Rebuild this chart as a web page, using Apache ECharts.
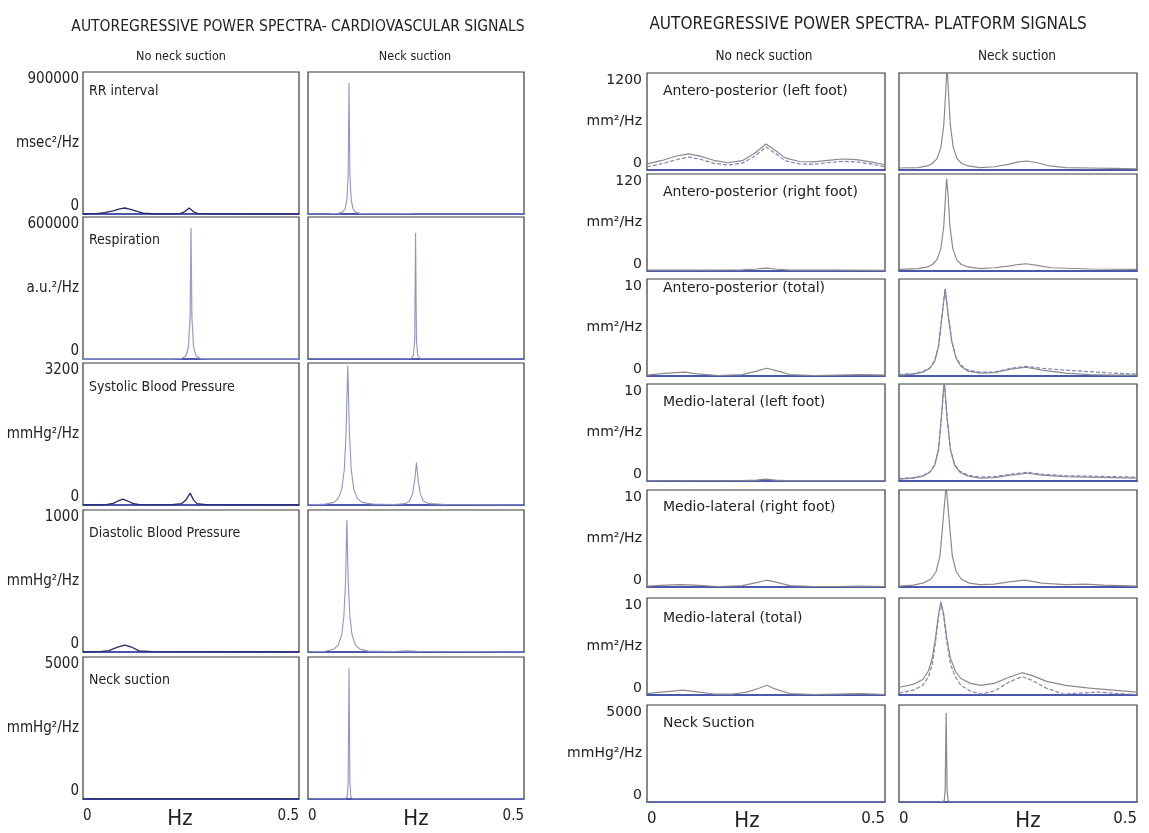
<!DOCTYPE html>
<html>
<head>
<meta charset="utf-8">
<title>Autoregressive power spectra</title>
<script src="https://cdn.jsdelivr.net/npm/echarts@6.0.0/dist/echarts.min.js"></script>
<style>
  html, body { margin: 0; padding: 0; background: #fff; }
  #chart { width: 1149px; height: 833px; }
</style>
</head>
<body>
<div id="chart"></div>
<script>
// ---- data: [Hz, power] ----
var hzTicks = [0, 0.5];

// cardiovascular signals (left figure)
var rrNoSuction = [[0,0],[0.03,2000],[0.05,8000],[0.07,20000],[0.085,32000],[0.097,38000],[0.11,30000],[0.125,16000],[0.14,6000],[0.16,1500],[0.2,500],[0.225,3000],[0.235,14000],[0.246,38000],[0.256,14000],[0.266,3000],[0.3,500],[0.4,0],[0.5,0]];
var rrSuction = [[0,0],[0.05,1000],[0.07,4000],[0.08,12000],[0.086,35000],[0.09,90000],[0.093,250000],[0.095,830000],[0.097,250000],[0.1,90000],[0.104,35000],[0.11,12000],[0.12,4000],[0.14,1000],[0.2,800],[0.22,3000],[0.24,800],[0.5,0]];
var respNoSuction = [[0,0],[0.2,0],[0.228,2000],[0.238,12000],[0.244,50000],[0.248,180000],[0.25,554000],[0.252,180000],[0.256,50000],[0.262,12000],[0.272,2000],[0.3,0],[0.5,0]];
var respSuction = [[0,0],[0.22,0],[0.238,2000],[0.244,15000],[0.247,80000],[0.249,533000],[0.251,80000],[0.254,15000],[0.26,2000],[0.28,0],[0.5,0]];
var sbpNoSuction = [[0,0],[0.05,5],[0.07,35],[0.082,95],[0.092,133],[0.102,95],[0.115,35],[0.13,8],[0.2,5],[0.228,30],[0.238,110],[0.248,267],[0.256,110],[0.264,30],[0.29,5],[0.5,0]];
var sbpSuction = [[0,0],[0.04,20],[0.06,60],[0.07,150],[0.078,350],[0.084,800],[0.088,1600],[0.092,3150],[0.096,1600],[0.1,800],[0.106,350],[0.114,150],[0.125,60],[0.15,20],[0.2,10],[0.225,30],[0.235,90],[0.242,250],[0.247,550],[0.251,955],[0.255,550],[0.26,250],[0.267,90],[0.28,30],[0.32,10],[0.5,0]];
var dbpNoSuction = [[0,0],[0.04,2],[0.06,10],[0.08,35],[0.097,49],[0.112,35],[0.13,8],[0.16,2],[0.5,0]];
var dbpSuction = [[0,0],[0.04,5],[0.06,20],[0.07,50],[0.078,120],[0.083,250],[0.087,500],[0.09,930],[0.093,500],[0.097,250],[0.102,120],[0.11,50],[0.12,20],[0.14,6],[0.2,4],[0.23,8],[0.26,4],[0.5,0]];
var cvNeckNoSuction = [[0,0],[0.5,0]];
var cvNeckSuction = [[0,0],[0.085,0],[0.091,80],[0.093,600],[0.095,4600],[0.097,600],[0.099,80],[0.105,0],[0.5,0]];

// platform signals (right figure), two estimates per panel
var apLeftNoA = [[0,75],[0.03,115],[0.06,170],[0.087,200],[0.11,175],[0.14,120],[0.17,90],[0.2,115],[0.225,200],[0.25,322],[0.27,240],[0.29,150],[0.32,105],[0.35,100],[0.38,120],[0.41,136],[0.44,128],[0.47,100],[0.5,65]];
var apLeftNoB = [[0,40],[0.03,75],[0.06,125],[0.087,160],[0.11,135],[0.14,85],[0.17,60],[0.2,85],[0.225,165],[0.25,285],[0.27,205],[0.29,115],[0.32,75],[0.35,70],[0.38,90],[0.41,108],[0.44,100],[0.47,75],[0.5,40]];
var apLeftSuction = [[0,25],[0.04,30],[0.06,50],[0.07,80],[0.08,140],[0.088,280],[0.094,550],[0.098,950],[0.101,1300],[0.104,950],[0.108,550],[0.114,280],[0.122,140],[0.132,80],[0.145,50],[0.17,30],[0.2,40],[0.23,70],[0.25,100],[0.269,111],[0.29,90],[0.317,50],[0.35,30],[0.4,25],[0.45,20],[0.5,15]];
var apRightNoSuction = [[0,1],[0.1,1.2],[0.2,1.5],[0.23,2.5],[0.25,3.5],[0.27,2.5],[0.3,1.2],[0.4,1],[0.5,0.8]];
var apRightSuction = [[0,2],[0.04,3],[0.06,5],[0.07,8],[0.08,14],[0.088,28],[0.094,55],[0.098,95],[0.1,114],[0.103,95],[0.107,55],[0.113,28],[0.121,14],[0.131,8],[0.145,5],[0.17,3],[0.2,4],[0.23,6],[0.25,8],[0.267,9],[0.29,7],[0.32,4],[0.4,2.5],[0.5,2]];
var apTotalNoSuction = [[0,0.1],[0.03,0.25],[0.06,0.35],[0.08,0.4],[0.1,0.25],[0.15,0.05],[0.2,0.15],[0.23,0.5],[0.252,0.8],[0.275,0.5],[0.3,0.15],[0.35,0.05],[0.4,0.1],[0.45,0.15],[0.5,0.1]];
var apTotalSuctionA = [[0,0.1],[0.03,0.2],[0.05,0.4],[0.065,0.8],[0.075,1.5],[0.083,3],[0.09,6],[0.097,9],[0.104,6],[0.111,3.5],[0.12,1.8],[0.13,1],[0.145,0.5],[0.17,0.3],[0.2,0.35],[0.235,0.7],[0.267,0.9],[0.3,0.6],[0.35,0.3],[0.4,0.15],[0.45,0.1],[0.5,0.1]];
var apTotalSuctionB = [[0,0.15],[0.03,0.25],[0.05,0.45],[0.065,0.85],[0.075,1.6],[0.083,3.1],[0.09,6.1],[0.097,9],[0.104,6.1],[0.111,3.6],[0.12,1.9],[0.13,1.1],[0.145,0.6],[0.17,0.4],[0.2,0.4],[0.235,0.8],[0.267,1.0],[0.3,0.8],[0.35,0.6],[0.4,0.45],[0.45,0.3],[0.5,0.2]];
var mlLeftNoSuction = [[0,0.02],[0.2,0.05],[0.23,0.1],[0.25,0.2],[0.27,0.1],[0.3,0.02],[0.5,0.02]];
var mlLeftSuctionA = [[0,0.2],[0.03,0.3],[0.05,0.5],[0.065,0.9],[0.075,1.6],[0.083,3.2],[0.089,6.5],[0.095,10.3],[0.101,6.5],[0.108,3.2],[0.117,1.6],[0.128,0.9],[0.145,0.5],[0.17,0.3],[0.2,0.35],[0.235,0.6],[0.27,0.8],[0.3,0.6],[0.35,0.45],[0.4,0.4],[0.45,0.35],[0.5,0.3]];
var mlLeftSuctionB = [[0,0.25],[0.03,0.35],[0.05,0.55],[0.065,0.95],[0.075,1.7],[0.083,3.3],[0.089,6.6],[0.095,10.3],[0.101,6.6],[0.108,3.3],[0.117,1.7],[0.128,1.0],[0.145,0.6],[0.17,0.4],[0.2,0.45],[0.235,0.7],[0.27,0.9],[0.3,0.7],[0.35,0.55],[0.4,0.5],[0.45,0.45],[0.5,0.4]];
var mlRightNoSuction = [[0,0.1],[0.04,0.2],[0.07,0.25],[0.1,0.2],[0.15,0.05],[0.2,0.15],[0.23,0.45],[0.252,0.7],[0.275,0.45],[0.3,0.15],[0.35,0.05],[0.4,0.05],[0.45,0.1],[0.5,0.05]];
var mlRightSuction = [[0,0.1],[0.03,0.2],[0.05,0.4],[0.067,0.8],[0.078,1.6],[0.086,3.2],[0.092,6.5],[0.099,10.5],[0.106,6.5],[0.112,3.2],[0.12,1.6],[0.131,0.8],[0.148,0.4],[0.17,0.25],[0.2,0.3],[0.235,0.55],[0.265,0.7],[0.3,0.4],[0.35,0.25],[0.39,0.3],[0.43,0.2],[0.5,0.1]];
var mlTotalNoSuction = [[0,0.15],[0.03,0.3],[0.076,0.5],[0.11,0.3],[0.14,0.1],[0.18,0.1],[0.21,0.3],[0.235,0.7],[0.252,1.0],[0.27,0.6],[0.3,0.15],[0.35,0.05],[0.4,0.1],[0.45,0.15],[0.5,0.05]];
var mlTotalSuctionA = [[0,0.8],[0.03,1.1],[0.05,1.6],[0.062,2.5],[0.07,3.8],[0.077,6.0],[0.083,8.3],[0.088,9.6],[0.094,8.3],[0.1,6.0],[0.108,3.8],[0.118,2.5],[0.13,1.7],[0.15,1.2],[0.172,1.0],[0.2,1.2],[0.23,1.8],[0.258,2.3],[0.28,2.0],[0.31,1.4],[0.35,1.0],[0.4,0.7],[0.45,0.5],[0.5,0.3]];
var mlTotalSuctionB = [[0,0.2],[0.03,0.5],[0.05,1.0],[0.062,1.9],[0.07,3.2],[0.077,5.6],[0.083,8.1],[0.088,9.5],[0.094,8.1],[0.1,5.6],[0.108,3.2],[0.118,1.9],[0.13,1.0],[0.15,0.4],[0.172,0.1],[0.2,0.4],[0.23,1.3],[0.258,1.9],[0.28,1.5],[0.31,0.7],[0.345,0.1],[0.38,0.2],[0.42,0.3],[0.46,0.15],[0.5,0.05]];
var pfNeckNoSuction = [[0,0],[0.5,0]];
var pfNeckSuction = [[0,0],[0.09,0],[0.095,80],[0.097,600],[0.099,4600],[0.101,600],[0.103,80],[0.108,0],[0.5,0]];

// panel labels, units and y maxima
var cvLabels = ['RR interval', 'Respiration', 'Systolic Blood Pressure', 'Diastolic Blood Pressure', 'Neck suction'];
var cvUnits = ['msec²/Hz', 'a.u.²/Hz', 'mmHg²/Hz', 'mmHg²/Hz', 'mmHg²/Hz'];
var cvMax = [900000, 600000, 3200, 1000, 5000];
var cvNo = [rrNoSuction, respNoSuction, sbpNoSuction, dbpNoSuction, cvNeckNoSuction];
var cvYes = [rrSuction, respSuction, sbpSuction, dbpSuction, cvNeckSuction];

var pfLabels = ['Antero-posterior (left foot)', 'Antero-posterior (right foot)', 'Antero-posterior (total)',
  'Medio-lateral (left foot)', 'Medio-lateral (right foot)', 'Medio-lateral (total)', 'Neck Suction'];
var pfUnits = ['mm²/Hz', 'mm²/Hz', 'mm²/Hz', 'mm²/Hz', 'mm²/Hz', 'mm²/Hz', 'mmHg²/Hz'];
var pfMax = [1200, 120, 10, 10, 10, 10, 5000];
var pfNo = [[apLeftNoA, apLeftNoB], [apRightNoSuction], [apTotalNoSuction], [mlLeftNoSuction], [mlRightNoSuction], [mlTotalNoSuction], [pfNeckNoSuction]];
var pfYes = [[apLeftSuction], [apRightSuction], [apTotalSuctionA, apTotalSuctionB], [mlLeftSuctionA, mlLeftSuctionB], [mlRightSuction], [mlTotalSuctionA, mlTotalSuctionB], [pfNeckSuction]];

// ---- layout ----
var NARROW = "'Liberation Sans Narrow','DejaVu Sans Condensed','Open Sans',sans-serif";
var WIDE = "'DejaVu Sans','Liberation Sans',sans-serif";

var cvCols = [83, 308], cvW = 216, cvTops = [72, 217, 363, 510, 657], cvH = 142;
var cvLabelDy = [19, 23, 24, 23, 23];
var cvNoColor = ['#262a6b', '#9aa0cc', '#262a6b', '#262a6b', '#262a6b'];
var pfCols = [647, 899], pfW = 238, pfTops = [73, 174, 279, 384, 490, 598, 705], pfH = 97;
var pfLabelDy = [18, 18, 9, 18, 17, 20, 18];

var grids = [], xAxes = [], yAxes = [], series = [], texts = [];

function addText(str, x, y, font, align) {
  texts.push({
    type: 'text', silent: true,
    style: { text: str, x: x, y: y, font: font, fill: '#222', align: align || 'center', verticalAlign: 'middle' }
  });
}

function addPanel(p) {
  var idx = grids.length;
  grids.push({ left: p.x, top: p.y, width: p.w, height: p.h, show: true,
    containLabel: false, outerBoundsMode: 'none',
    borderColor: '#3a3a3a', borderWidth: 1.2, backgroundColor: '#fff' });
  xAxes.push({
    type: 'value', gridIndex: idx, min: hzTicks[0], max: hzTicks[1], interval: hzTicks[1] - hzTicks[0],
    axisLine: { show: true, onZero: false, lineStyle: { color: '#3040b0', width: 1.5 } },
    axisTick: { show: false }, splitLine: { show: false },
    axisLabel: { show: p.showX, margin: 10, color: '#222', fontFamily: p.font, fontSize: p.xFont,
      alignMinLabel: 'left', alignMaxLabel: 'right', showMinLabel: true, showMaxLabel: true,
      formatter: function (v) { return v === 0 ? '0' : String(v); } },
    name: p.showX ? 'Hz' : '', nameLocation: 'middle', nameGap: p.hzGap, nameMoveOverlap: false,
    nameTextStyle: { fontFamily: NARROW, fontSize: 22, color: '#222', padding: p.hzPad,
      verticalAlign: 'top' }
  });
  var max = p.max, unit = p.unit;
  yAxes.push({
    type: 'value', gridIndex: idx, min: 0, max: max, interval: max / 2,
    axisLine: { show: false }, axisTick: { show: false }, splitLine: { show: false },
    axisLabel: { show: p.showY, margin: p.yMargin, color: '#222', fontFamily: p.font, fontSize: p.yFont,
      showMinLabel: true, showMaxLabel: true, hideOverlap: false,
      verticalAlignMinLabel: 'bottom', verticalAlignMaxLabel: 'top',
      formatter: function (v) { return v === 0 ? '0' : (v === max ? String(max) : unit); } }
  });
  p.lines.forEach(function (ln) {
    series.push({ type: 'line', xAxisIndex: idx, yAxisIndex: idx, data: ln.data, symbol: 'none',
      silent: true, clip: true, lineStyle: ln.style, z: 3 });
  });
}

// cardiovascular figure
addText('AUTOREGRESSIVE POWER SPECTRA- CARDIOVASCULAR SIGNALS', 298, 27, '15.5px ' + NARROW);
addText('No neck suction', 181, 57, '12.5px ' + NARROW);
addText('Neck suction', 415, 57, '12.5px ' + NARROW);
cvTops.forEach(function (top, r) {
  var last = r === cvTops.length - 1;
  [0, 1].forEach(function (c) {
    addPanel({ x: cvCols[c], y: top, w: cvW, h: cvH, max: cvMax[r], unit: cvUnits[r],
      showY: c === 0, showX: last, font: NARROW, xFont: 15, yFont: 15, yMargin: 4,
      hzGap: 9, hzPad: c === 0 ? [0, 22, 0, 0] : [0, 0, 0, 0],
      lines: c === 0
        ? [{ data: cvNo[r], style: { color: cvNoColor[r], width: 1.3 } }]
        : [{ data: cvYes[r], style: { color: '#8f95c4', width: 1.1 } }] });
  });
  addText(cvLabels[r], cvCols[0] + 6, top + cvLabelDy[r], '14px ' + NARROW, 'left');
});

// platform figure
addText('AUTOREGRESSIVE POWER SPECTRA- PLATFORM SIGNALS', 868, 25, '17px ' + NARROW);
addText('No neck suction', 764, 56, '13.5px ' + NARROW);
addText('Neck suction', 1017, 56, '13.5px ' + NARROW);
pfTops.forEach(function (top, r) {
  var last = r === pfTops.length - 1;
  [0, 1].forEach(function (c) {
    var sets = c === 0 ? pfNo[r] : pfYes[r];
    var lines = sets.map(function (d, k) {
      return { data: d, style: k === 0
        ? { color: '#8a8a8e', width: 1.2 }
        : { color: '#7d84b8', width: 1.2, type: [4, 2] } };
    });
    addPanel({ x: pfCols[c], y: top, w: pfW, h: pfH, max: pfMax[r], unit: pfUnits[r],
      showY: c === 0, showX: last, font: WIDE, xFont: 15, yFont: 14, yMargin: 5,
      hzGap: 8, hzPad: c === 0 ? [0, 38, 0, 0] : [0, 0, 0, 20], lines: lines });
  });
  addText(pfLabels[r], pfCols[0] + 16, top + pfLabelDy[r], '14px ' + WIDE, 'left');
});

var chart = echarts.init(document.getElementById('chart'), null, { renderer: 'canvas' });
chart.setOption({
  animation: false,
  backgroundColor: '#fff',
  grid: grids,
  xAxis: xAxes,
  yAxis: yAxes,
  series: series,
  graphic: texts
});
</script>
</body>
</html>
